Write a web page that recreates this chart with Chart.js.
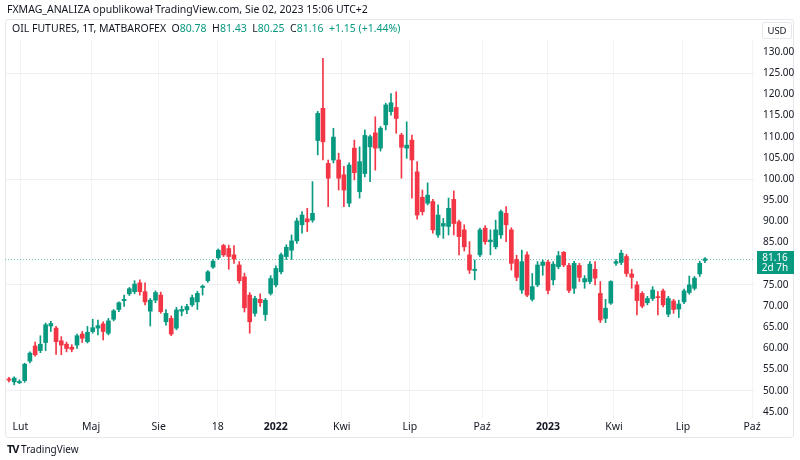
<!DOCTYPE html>
<html>
<head>
<meta charset="utf-8">
<script src="https://cdn.jsdelivr.net/npm/chart.js@4.4.1/dist/chart.umd.min.js"></script>
<style>
  body { margin: 0; background: #fff; }
  #wrap { position: relative; width: 800px; height: 460px; font-family: "Noto Sans", sans-serif; color: #131722; }
  #frame { position: absolute; left: 5px; top: 19px; width: 787px; height: 417px; border: 1px solid #e6e8ee; border-radius: 3px; }
  canvas { position: absolute; left: 0; top: 0; }
  .txt { position: absolute; white-space: nowrap; font-size: 10.5px; line-height: 12px; }
  .g { color: #089981; }
  #usd { position: absolute; left: 762px; top: 22px; width: 28px; height: 15px; border: 1px solid #e6e8ee; border-radius: 2px; font-size: 9.5px; line-height: 15px; text-align: center; background: #fff; }
</style>
</head>
<body>
<div id="wrap">
  <div id="frame"></div>
  <canvas id="chart" width="800" height="460"></canvas>
  <div class="txt" style="left:7px;top:3px;">FXMAG_ANALIZA opublikował TradingView.com, Sie 02, 2023 15:06 UTC+2</div>
  <div class="txt" style="left:12px;top:22px;">OIL FUTURES, 1T, MATBAROFEX &nbsp;O<span class="g">80.78</span> &nbsp;H<span class="g">81.43</span> &nbsp;L<span class="g">80.25</span> &nbsp;C<span class="g">81.16</span> &nbsp;<span class="g">+1.15 (+1.44%)</span></div>
  <div id="usd">USD</div>
  <div class="txt" style="left:7px;top:443px;font-size:10px;"><b style="font-size:11px;letter-spacing:-1px;">TV</b> TradingView</div>
</div>
<script>
// tygodniowe świece, od stycznia 2021 do sierpnia 2023
const opens = [
  52.8, 52.1, 51.9, 52.4, 57.0, 60.6, 59.5, 61.4, 65.3, 64.8,
  61.8, 61.0, 60.3, 60.8, 63.4, 61.6, 64.0, 64.8, 65.8, 63.6,
  66.9, 69.2, 71.3, 72.9, 73.4, 75.5, 73.4, 68.8, 71.4, 72.6,
  66.3, 67.1, 64.8, 68.8, 69.1, 70.3, 71.0, 74.4, 76.0, 79.2,
  81.4, 84.3, 83.6, 82.1, 79.7, 76.9, 72.6, 68.3, 71.6, 68.0,
  73.0, 75.0, 78.1, 81.7, 83.2, 85.4, 89.2, 90.6, 90.3, 109.1,
  116.7, 103.7, 104.5, 104.5, 101.0, 94.3, 107.3, 97.0, 101.3, 107.6,
  110.9, 107.3, 112.8, 115.9, 116.9, 110.4, 107.3, 109.2, 101.7, 95.7,
  94.3, 94.7, 86.8, 88.9, 88.8, 95.2, 89.9, 88.0, 82.1, 78.4,
  82.1, 88.4, 85.2, 84.0, 86.8, 91.9, 88.0, 81.0, 73.8, 82.1,
  71.6, 75.0, 79.6, 80.4, 76.2, 79.3, 82.7, 79.6, 74.2, 79.6,
  75.7, 75.8, 78.7, 73.0, 67.1, 70.7, 80.1, 80.3, 81.7, 77.6,
  75.0, 73.0, 70.8, 71.8, 72.2, 73.6, 68.1, 71.2, 69.3, 71.0,
  73.2, 74.2, 77.6, 80.78
];
const highs = [
  53.2, 53.3, 52.6, 56.5, 59.2, 61.5, 63.0, 66.0, 66.4, 65.2,
  62.8, 61.5, 60.9, 63.4, 64.0, 65.2, 66.9, 66.7, 66.3, 67.1,
  69.2, 71.0, 72.6, 74.4, 76.0, 76.2, 75.5, 71.8, 73.6, 73.3,
  69.2, 67.7, 69.7, 70.0, 70.4, 72.6, 73.5, 75.0, 78.4, 81.0,
  83.5, 84.6, 84.4, 84.3, 80.5, 77.8, 73.2, 72.3, 72.9, 71.8,
  77.2, 79.5, 82.5, 84.5, 86.8, 90.8, 92.3, 93.1, 99.4, 116.0,
  128.5, 104.5, 112.0, 106.1, 103.0, 103.8, 109.2, 107.6, 111.6, 110.4,
  114.7, 112.4, 117.9, 120.2, 120.6, 110.8, 113.5, 110.4, 104.1, 97.4,
  99.1, 95.2, 93.9, 90.7, 95.5, 97.2, 90.3, 89.2, 85.2, 80.9,
  88.4, 89.0, 88.0, 90.3, 92.7, 93.5, 88.5, 82.0, 83.2, 82.8,
  77.7, 80.5, 80.9, 80.8, 80.5, 82.9, 82.9, 80.1, 80.6, 80.1,
  77.2, 80.5, 80.5, 75.8, 71.6, 76.0, 81.0, 83.2, 82.2, 78.7,
  75.8, 73.4, 72.3, 74.6, 73.4, 74.0, 72.3, 71.6, 71.4, 74.0,
  77.1, 77.0, 80.6, 81.43
];
const lows = [
  52.1, 51.4, 51.7, 52.0, 56.6, 58.2, 59.0, 59.5, 64.0, 58.6,
  58.5, 59.2, 59.2, 60.0, 61.4, 61.3, 63.6, 63.2, 62.0, 63.2,
  66.5, 68.7, 69.9, 72.5, 72.9, 72.6, 70.3, 65.3, 70.8, 68.3,
  65.5, 63.0, 64.4, 67.7, 68.2, 69.9, 69.2, 72.6, 75.6, 78.9,
  81.0, 81.7, 78.7, 80.1, 75.4, 68.6, 63.6, 67.6, 69.9, 66.6,
  72.6, 74.5, 77.6, 81.0, 81.0, 84.8, 87.2, 87.6, 89.8, 105.7,
  104.5, 93.5, 103.8, 97.4, 93.5, 93.5, 99.8, 95.5, 100.5, 99.4,
  102.1, 106.6, 111.6, 115.1, 110.8, 100.2, 104.9, 95.5, 90.5, 91.5,
  93.9, 87.2, 86.2, 86.0, 86.8, 86.8, 82.1, 83.0, 77.7, 76.2,
  81.7, 84.6, 82.1, 83.5, 86.0, 85.2, 78.5, 76.0, 73.0, 72.2,
  71.2, 74.6, 77.3, 72.9, 75.0, 78.8, 79.3, 73.2, 73.0, 75.8,
  74.2, 75.3, 75.0, 66.1, 66.1, 70.4, 79.6, 79.8, 77.0, 74.2,
  67.9, 69.6, 70.3, 71.3, 67.9, 69.8, 67.5, 68.3, 67.3, 70.6,
  72.8, 73.8, 77.0, 80.25
];
const closes = [
  52.5, 53.0, 52.2, 56.3, 58.9, 58.5, 61.0, 65.6, 65.9, 61.6,
  60.8, 60.0, 59.8, 63.0, 62.4, 63.8, 64.9, 65.4, 64.0, 66.5,
  68.9, 70.8, 71.6, 74.1, 75.2, 73.4, 71.0, 71.4, 73.2, 68.7,
  68.3, 63.4, 69.1, 69.2, 69.9, 72.0, 73.0, 74.7, 78.1, 80.6,
  83.2, 82.1, 81.7, 81.1, 76.0, 69.6, 66.3, 71.8, 70.8, 71.4,
  76.5, 78.9, 82.1, 83.9, 85.4, 90.1, 91.5, 89.9, 91.9, 115.5,
  108.8, 100.2, 109.9, 100.2, 97.4, 103.3, 101.5, 104.1, 110.3, 110.0,
  107.3, 112.0, 117.5, 118.0, 114.3, 107.5, 108.0, 104.5, 91.5, 92.3,
  96.2, 88.0, 91.5, 89.5, 93.1, 89.5, 86.4, 84.0, 78.5, 78.7,
  88.0, 85.2, 85.6, 88.0, 92.3, 89.2, 80.1, 76.8, 80.5, 72.6,
  74.6, 79.7, 80.4, 73.7, 79.9, 81.9, 79.7, 73.7, 80.1, 76.8,
  76.5, 79.9, 76.6, 66.7, 69.5, 75.8, 80.5, 82.5, 77.7, 76.8,
  71.3, 70.0, 71.8, 73.8, 72.0, 70.3, 71.8, 69.2, 70.5, 73.6,
  75.0, 76.6, 80.1, 81.16
];

// etykiety osi czasu (pozycja w tygodniach od pierwszej świecy)
const tickPositions = [2.2, 15.7, 28.6, 39.9, 51.0, 63.6, 76.6, 90.4, 103.0, 115.6, 128.8, 142.0];
const tickLabels = ["Lut", "Maj", "Sie", "18", "2022", "Kwi", "Lip", "Paź", "2023", "Kwi", "Lip", "Paź"];
const priceTicks = [45, 50, 55, 60, 65, 70, 75, 80, 85, 90, 95, 100, 105, 110, 115, 120, 125, 130];

const lastClose = 81.16;
const lastCountdown = "2d 7h";

const UP = "#089981";
const DOWN = "#F23645";
const colors = closes.map((c, i) => (c >= opens[i] ? UP : DOWN));

const lastPrice = {
    id: "lastPrice",
    beforeDatasetsDraw(chart) {
        const { ctx, chartArea, scales } = chart;
        const py = Math.round(scales.y.getPixelForValue(lastClose)) + 0.5;
        ctx.save();
        ctx.strokeStyle = "rgba(8,153,129,0.55)";
        ctx.lineWidth = 1;
        ctx.setLineDash([1, 2]);
        ctx.beginPath();
        ctx.moveTo(chartArea.left, py);
        ctx.lineTo(chartArea.right, py);
        ctx.stroke();
        ctx.restore();
    },
    afterDraw(chart) {
        const { ctx, chartArea, scales } = chart;
        const py = Math.round(scales.y.getPixelForValue(lastClose));
        const x0 = chartArea.right + 2;
        ctx.save();
        ctx.fillStyle = UP;
        ctx.fillRect(x0, py - 8, 37, 23);
        ctx.fillStyle = "#fff";
        ctx.font = "10px 'Noto Sans'";
        ctx.textAlign = "center";
        ctx.textBaseline = "middle";
        ctx.fillText(lastClose.toFixed(2), x0 + 18, py - 1);
        ctx.fillText(lastCountdown, x0 + 18, py + 9);
        ctx.restore();
    },
};

new Chart(document.getElementById("chart"), {
    type: "bar",
    data: {
        datasets: [
            {
                label: "wick",
                data: opens.map((_, i) => ({ x: i, y: [lows[i], highs[i]] })),
                backgroundColor: colors,
                barThickness: 1,
                grouped: false,
                order: 2,
            },
            {
                label: "body",
                data: opens.map((o, i) => ({ x: i, y: [o, closes[i]] })),
                backgroundColor: colors,
                barThickness: 4,
                minBarLength: 1,
                grouped: false,
                order: 1,
            },
        ],
    },
    options: {
        responsive: false,
        animation: false,
        devicePixelRatio: 1,
        layout: { padding: { left: 5, top: 40, right: 0, bottom: 20 } },
        plugins: {
            legend: { display: false },
            tooltip: { enabled: false },
        },
        scales: {
            x: {
                type: "linear",
                offset: false,
                min: -0.76,
                max: 142.56,
                afterBuildTicks: (scale) => {
                    scale.ticks = tickPositions.map((v) => ({ value: v }));
                },
                afterFit: (scale) => {
                    scale.height = 22;
                },
                ticks: {
                    autoSkip: false,
                    maxRotation: 0,
                    padding: 3,
                    color: "#131722",
                    font: (ctx) => ({
                        family: "Noto Sans",
                        size: 10.5,
                        weight: /^\d{4}$/.test(tickLabels[ctx.index]) ? "bold" : "normal",
                    }),
                    callback: (value, index) => tickLabels[index],
                },
                grid: { color: "#f2f3f6", drawTicks: false, offset: false },
                border: { display: false },
            },
            y: {
                position: "right",
                min: 43.58,
                max: 132.83,
                afterBuildTicks: (scale) => {
                    scale.ticks = priceTicks.map((v) => ({ value: v }));
                },
                afterFit: (scale) => {
                    scale.width = 45;
                },
                ticks: {
                    padding: 8,
                    color: "#131722",
                    font: { family: "Noto Sans", size: 10 },
                    callback: (v) => Number(v).toFixed(2),
                },
                grid: {
                    drawTicks: false,
                    color: (ctx) => (ctx.tick && ctx.tick.value % 25 === 0 ? "#eef0f4" : "rgba(0,0,0,0)"),
                },
                border: { display: false },
            },
        },
    },
    plugins: [lastPrice],
});
</script>
</body>
</html>
